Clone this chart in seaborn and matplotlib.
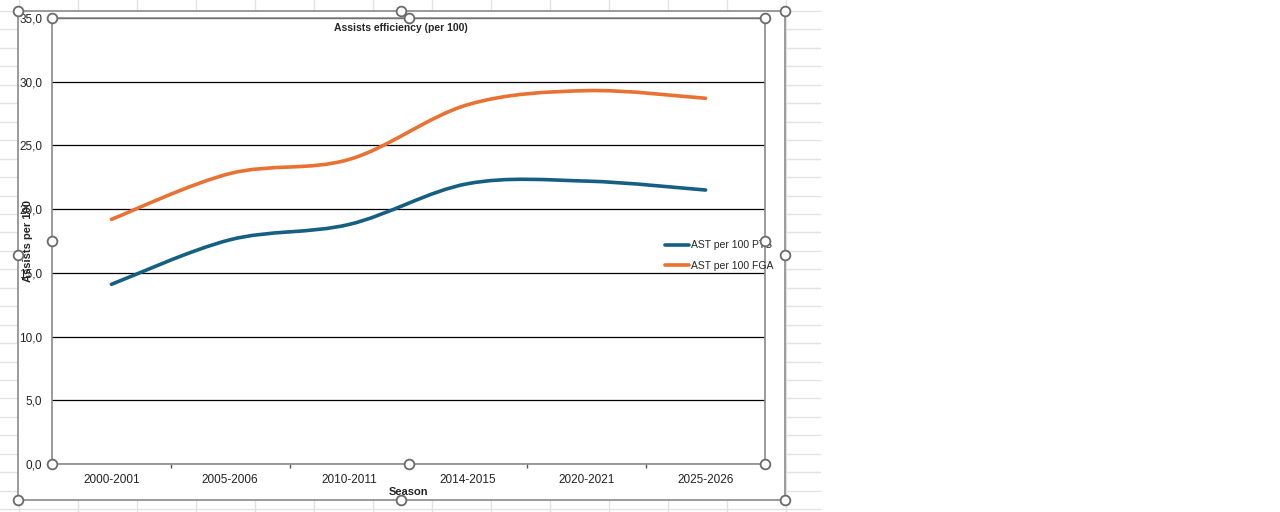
import matplotlib
matplotlib.use("Agg")
import matplotlib.pyplot as plt
import numpy as np
import pandas as pd
import seaborn as sns
from matplotlib.lines import Line2D
from matplotlib.patches import PathPatch, Rectangle
from matplotlib.path import Path

# ---- data ----
SEASONS = ["2000-2001", "2005-2006", "2010-2011", "2014-2015", "2020-2021", "2025-2026"]
AST_PER_100_PTS = [14.1, 17.6, 18.8, 22.0, 22.2, 21.5]
AST_PER_100_FGA = [19.2, 22.8, 23.9, 28.2, 29.3, 28.7]
SERIES_NAMES = ["AST per 100 PTS", "AST per 100 FGA"]
Y_TICKS = [0, 5, 10, 15, 20, 25, 30, 35]

TITLE = "Assists efficiency (per 100)"
X_LABEL = "Season"
Y_LABEL = "Assists per 100"

# ---- style ----
BLUE = "#156082"
ORANGE = "#E97132"
BORDER = "#8a8a8a"
CELL = "#e2e2e2"

W, H = 1280, 512


def fx(px):
    return px / W


def fy(py):
    return 1 - py / H


sns.set_theme(style="white")
plt.rcParams["font.family"] = ["Liberation Sans", "DejaVu Sans"]

fig = plt.figure(figsize=(12.8, 5.12), dpi=100)
fig.patch.set_facecolor("white")

# spreadsheet cell grid behind the chart
for k in range(14):
    x = 18.7 + 59 * k
    fig.add_artist(Line2D([fx(x), fx(x)], [fy(0), fy(512)], color=CELL, lw=1,
                          transform=fig.transFigure, zorder=-5))
for k in range(28):
    y = 11 + 18.45 * k
    fig.add_artist(Line2D([0, fx(820)], [fy(y), fy(y)], color=CELL, lw=1,
                          transform=fig.transFigure, zorder=-5))

# chart area
fig.add_artist(Rectangle((fx(18), fy(500)), fx(785) - fx(18), fy(11) - fy(500),
                         facecolor="white", edgecolor=BORDER, lw=1.2,
                         transform=fig.transFigure, zorder=-2))

ax = fig.add_axes([fx(52), fy(464), fx(765) - fx(52), fy(18) - fy(464)])
ax.set_facecolor("white")

df = pd.DataFrame({
    "Season": SEASONS * 2,
    "value": AST_PER_100_PTS + AST_PER_100_FGA,
    "Series": [SERIES_NAMES[0]] * len(SEASONS) + [SERIES_NAMES[1]] * len(SEASONS),
})

sns.lineplot(data=df, x="Season", y="value", hue="Series", palette=[BLUE, ORANGE],
             linewidth=2.6, sort=False, ax=ax)

# Excel-style smoothed lines (Catmull-Rom Bezier through the data points)
for line in list(ax.lines):
    pts = np.asarray(line.get_xydata(), dtype=float)
    if len(pts) < 2:
        continue
    n = len(pts)
    verts = [pts[0]]
    codes = [Path.MOVETO]
    for i in range(n - 1):
        p0 = pts[i - 1] if i > 0 else pts[i]
        p1, p2 = pts[i], pts[i + 1]
        p3 = pts[i + 2] if i + 2 < n else pts[i + 1]
        verts += [p1 + (p2 - p0) / 6, p2 - (p3 - p1) / 6, p2]
        codes += [Path.CURVE4] * 3
    ax.add_patch(PathPatch(Path(verts, codes), fill=False, edgecolor=line.get_color(),
                           lw=line.get_linewidth(), capstyle="round", zorder=3))
    line.set_visible(False)

# legend
old = ax.get_legend()
handles = old.legend_handles
labels = [t.get_text() for t in old.get_texts()]
ax.legend(handles, labels, loc="center left", bbox_to_anchor=(fx(665), fy(255.5)),
          bbox_transform=fig.transFigure, frameon=False, fontsize=7.5,
          handlelength=2.3, handletextpad=0.15, labelspacing=1.0,
          borderpad=0, borderaxespad=0)

# axes
ax.set_xlim(-0.5, len(SEASONS) - 0.5)
ax.set_ylim(Y_TICKS[0], Y_TICKS[-1])
ax.set_yticks(Y_TICKS)
ax.set_yticklabels([f"{v:.1f}".replace(".", ",") for v in Y_TICKS])
ax.set_xticks(range(len(SEASONS)))
ax.set_xticklabels(SEASONS)
ax.set_xticks(np.arange(0.5, len(SEASONS) - 1, 1.0), minor=True)

ax.yaxis.grid(True, color="black", lw=0.9)
ax.xaxis.grid(False)
ax.set_axisbelow(True)
for s in ax.spines.values():
    s.set_visible(True)
    s.set_color(BORDER)
    s.set_linewidth(1.2)

ax.tick_params(axis="y", length=0, pad=7, labelsize=8.5, labelcolor="#222222")
ax.tick_params(axis="x", which="major", length=0, pad=7, labelsize=8.5, labelcolor="#222222")
ax.tick_params(axis="x", which="minor", bottom=True, length=3, width=1, color="#555555")

ax.set_title(TITLE, fontsize=7.5, fontweight="bold", x=(401 - 52) / 713,
             y=(464 - 28) / 446, va="center", pad=0)
ax.set_xlabel(X_LABEL, fontsize=8, fontweight="bold")
ax.xaxis.set_label_coords((409 - 52) / 713, (464 - 492) / 446)
ax.xaxis.label.set_va("center")
ax.set_ylabel(Y_LABEL, fontsize=8, fontweight="bold")
ax.yaxis.set_label_coords((28 - 52) / 713, (464 - 241) / 446)
ax.yaxis.label.set_va("center")

# selection handles of the chart and plot areas
HANDLES = [(18, 11), (401, 11), (785, 11), (18, 255), (785, 255), (18, 500), (401, 500), (785, 500),
           (52, 18), (409, 18), (765, 18), (52, 241), (765, 241), (52, 464), (409, 464), (765, 464)]
for hx, hy in HANDLES:
    fig.add_artist(Line2D([fx(hx)], [fy(hy)], marker="o", markersize=7, mfc="white",
                          mec="#6a6a6a", mew=1.3, transform=fig.transFigure, zorder=10))

plt.savefig("out.png", dpi=100)
